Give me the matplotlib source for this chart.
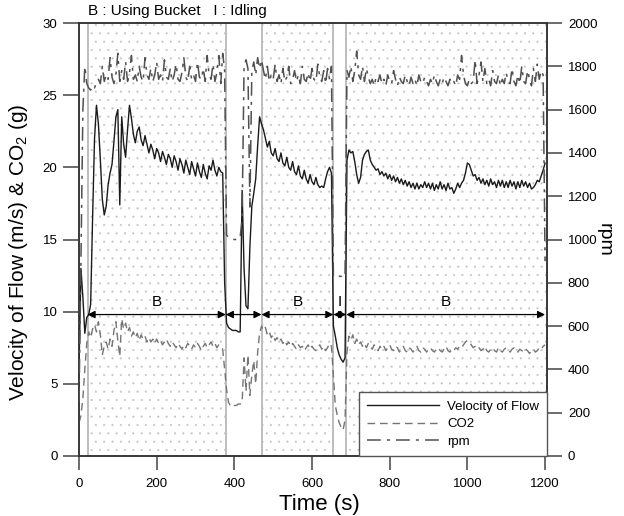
import matplotlib
matplotlib.use('Agg')
import matplotlib.pyplot as plt
import numpy as np

plt.rcParams['font.family'] = ['Liberation Sans', 'DejaVu Sans']
plt.rcParams['mathtext.fontset'] = 'custom'
plt.rcParams['mathtext.rm'] = 'Liberation Sans'
plt.rcParams['hatch.linewidth'] = 0.3

# time grid of the samples (s), one value every 5 s
time_s = list(range(0, 1201, 5))

velocity = [
    6.0, 13.0, 11.0, 8.5, 9.6, 9.8, 10.5, 16.5, 22.0, 24.3, 23.0, 20.5, 17.8, 16.7, 17.3, 18.8, 19.6, 20.2, 21.8, 23.5,
    24.0, 17.4, 23.5, 21.6, 20.7, 22.6, 24.3, 23.4, 22.3, 21.7, 22.5, 22.8, 21.9, 21.5, 22.2, 21.6, 21.0, 21.6, 21.2, 20.6,
    21.3, 21.0, 20.4, 21.1, 20.7, 20.2, 20.9, 20.6, 20.0, 20.8, 20.4, 19.8, 20.6, 20.2, 19.6, 20.5, 20.0, 19.5, 20.4, 19.9,
    19.4, 20.3, 19.7, 19.3, 20.2, 19.6, 19.2, 20.1, 19.8, 20.5, 19.8, 19.4, 20.0, 19.7, 19.6, 12.0, 9.2, 8.9, 8.8, 8.7,
    8.7, 8.7, 8.6, 8.6, 18.4, 13.0, 10.4, 10.2, 14.5, 17.3, 18.2, 19.2, 21.5, 23.5, 23.0, 22.6, 22.0, 21.4, 21.8, 21.0,
    20.8, 21.3, 20.6, 20.4, 21.0, 20.3, 20.1, 20.7, 20.0, 19.8, 20.4, 19.7, 19.5, 20.1, 19.4, 19.2, 19.8, 19.2, 18.9, 19.5,
    19.0, 18.8, 19.3, 18.8, 18.6, 18.7, 18.6, 19.2, 19.7, 20.0, 19.6, 9.0, 8.3, 7.5, 7.0, 6.7, 6.5, 6.8, 20.5, 21.2,
    21.0, 21.1, 20.4, 19.5, 18.9, 19.3, 20.5, 20.9, 21.1, 21.2, 20.5, 20.2, 20.0, 19.8, 19.9, 19.5, 19.7, 19.4, 19.6, 19.2,
    19.5, 19.1, 19.4, 19.0, 19.3, 18.9, 19.2, 18.8, 19.1, 18.7, 19.0, 18.6, 18.9, 18.5, 18.9, 18.5, 18.8, 18.6, 19.0, 18.6,
    18.9, 18.5, 18.9, 18.4, 18.8, 18.5, 19.0, 18.5, 18.8, 18.4, 18.9, 18.5, 18.6, 18.2, 18.5, 18.9, 18.6, 18.9, 19.1, 19.6,
    20.3, 20.2, 19.8, 19.4, 19.5, 19.1, 19.3, 18.9, 19.2, 18.8, 19.1, 18.7, 19.2, 18.8, 19.0, 18.6, 19.1, 18.7, 19.1, 18.6,
    19.0, 18.6, 19.1, 18.7, 19.0, 18.5, 19.0, 18.6, 19.1, 18.7, 19.0, 18.6, 18.9, 18.5, 18.6, 18.8, 19.1, 19.0, 19.4, 19.8,
    20.3,
]

co2 = [
    2.3, 2.8, 4.0, 6.0, 7.8, 8.6, 8.2, 8.8, 9.1, 8.6, 9.3, 8.4, 7.0, 7.6, 7.9, 7.4, 8.1, 7.6, 8.7, 9.3,
    8.0, 6.9, 9.5, 8.8, 9.2, 8.6, 8.9, 8.3, 8.6, 8.2, 8.5, 8.0, 8.4, 8.1, 8.3, 7.9, 8.2, 7.9, 8.1, 7.8,
    8.1, 7.8, 8.0, 7.7, 7.9, 8.1, 7.8, 7.6, 7.9, 7.7, 7.5, 7.8, 7.6, 7.4, 7.7, 7.5, 7.8, 7.6, 7.4, 7.7,
    7.5, 7.8, 7.6, 7.3, 7.6, 7.8, 7.5, 7.7, 7.9, 7.6, 7.8, 7.5, 7.7, 7.6, 7.4, 6.0, 4.6, 3.7, 3.5, 3.4,
    3.5, 3.5, 3.6, 3.6, 3.7, 6.8, 4.5, 7.0, 4.2, 5.6, 6.6, 5.0, 7.2, 8.5, 9.0, 8.7, 8.9, 8.4, 8.6, 8.2,
    8.4, 8.0, 8.2, 7.9, 8.1, 7.8, 8.0, 7.7, 7.9, 7.6, 7.8, 7.6, 7.4, 7.7, 7.5, 7.6, 7.3, 7.5, 7.7, 7.4,
    7.6, 7.4, 7.3, 7.5, 7.7, 7.4, 7.6, 7.3, 7.5, 7.8, 7.6, 5.5, 3.5, 2.8, 2.3, 2.0, 1.8, 2.5, 7.2, 8.3,
    8.0, 8.4, 7.8, 8.1, 7.7, 7.9, 7.6, 7.8, 7.5, 7.8, 7.6, 7.4, 7.7, 7.5, 7.3, 7.6, 7.4, 7.6, 7.3, 7.5,
    7.7, 7.4, 7.3, 7.6, 7.5, 7.2, 7.4, 7.6, 7.3, 7.2, 7.5, 7.4, 7.2, 7.4, 7.6, 7.3, 7.2, 7.5, 7.4, 7.2,
    7.4, 7.5, 7.3, 7.2, 7.4, 7.5, 7.3, 7.2, 7.4, 7.6, 7.3, 7.2, 7.4, 7.3, 7.5, 7.4, 7.6, 7.5, 7.7, 7.9,
    8.0, 7.9, 7.7, 7.5, 7.6, 7.4, 7.5, 7.3, 7.4, 7.6, 7.3, 7.2, 7.4, 7.5, 7.3, 7.2, 7.5, 7.3, 7.2, 7.4,
    7.5, 7.3, 7.2, 7.4, 7.5, 7.3, 7.2, 7.4, 7.3, 7.2, 7.4, 7.3, 7.1, 7.3, 7.4, 7.2, 7.3, 7.5, 7.4, 7.6,
    7.7,
]

rpm = [
    250, 900, 1600, 1800, 1720, 1700, 1690, 1710, 1700, 1730, 1740, 1720, 1800, 1730, 1760, 1740, 1840, 1750, 1720, 1760,
    1860, 1730, 1780, 1740, 1820, 1730, 1770, 1850, 1740, 1760, 1730, 1800, 1750, 1730, 1840, 1760, 1740, 1790, 1730, 1760,
    1820, 1740, 1760, 1730, 1830, 1750, 1740, 1790, 1730, 1760, 1810, 1740, 1730, 1770, 1840, 1750, 1730, 1800, 1740, 1760,
    1730, 1820, 1750, 1740, 1790, 1730, 1850, 1760, 1740, 1810, 1730, 1770, 1850, 1720, 1860, 1780, 1020, 1010, 1005, 1000,
    1000, 1000, 1000, 1010, 1100, 1800, 1830, 1790, 1150, 1780, 1820, 1760, 1840, 1790, 1830, 1780, 1740, 1800, 1730, 1760,
    1740, 1810, 1730, 1760, 1720, 1790, 1730, 1750, 1800, 1720, 1740, 1780, 1730, 1760, 1720, 1800, 1740, 1730, 1770, 1730,
    1790, 1740, 1730, 1810, 1750, 1730, 1780, 1720, 1790, 1740, 1800, 830, 830, 825, 830, 830, 835, 830, 1780, 1750,
    1800, 1730, 1780, 1870, 1760, 1740, 1800, 1730, 1790, 1750, 1720, 1740, 1710, 1750, 1730, 1760, 1720, 1740, 1710, 1760,
    1730, 1720, 1780, 1740, 1710, 1750, 1730, 1720, 1760, 1730, 1710, 1750, 1720, 1740, 1710, 1760, 1730, 1720, 1750, 1730,
    1710, 1740, 1720, 1760, 1730, 1710, 1740, 1720, 1750, 1730, 1710, 1740, 1720, 1730, 1710, 1760, 1740, 1850, 1760, 1720,
    1710, 1740, 1720, 1730, 1830, 1720, 1760, 1820, 1730, 1790, 1720, 1740, 1710, 1780, 1730, 1720, 1760, 1710, 1740, 1720,
    1770, 1730, 1720, 1790, 1730, 1710, 1760, 1720, 1800, 1730, 1720, 1780, 1740, 1710, 1790, 1730, 1810, 1740, 1780, 1760,
    900,
]

# working phases: (start, end, label)
phases = [(22, 378, 'B'), (378, 470, ''), (470, 655, 'B'), (655, 688, 'I'), (688, 1200, 'B')]
bucket_spans = [(22, 378), (470, 655), (688, 1205)]
phase_edges = [22, 378, 470, 655, 688]

fig = plt.figure(figsize=(6.24, 5.16), dpi=100)
ax = fig.add_axes([0.1266, 0.1163, 0.75, 0.8391])
ax2 = ax.twinx()

for a, b in bucket_spans:
    ax.axvspan(a, b, facecolor='none', edgecolor='#c4c4c4', hatch='..', linewidth=0, zorder=0)
for e in phase_edges:
    ax.axvline(e, color='#bdbdbd', linewidth=1.4, zorder=1)

l1, = ax.plot(time_s, velocity, color='#1a1a1a', linewidth=1.0, label='Velocity of Flow', zorder=3)
l2, = ax.plot(time_s, co2, color='#757575', linewidth=1.0, dashes=(5.5, 3.5), label='CO2', zorder=3)
l3, = ax2.plot(time_s, rpm, color='#505050', linewidth=1.1, dashes=(9, 4, 2, 4), label='rpm', zorder=3)

# phase arrows
arrow_y = 9.8
for a, b, lab in phases:
    ax.annotate('', xy=(b, arrow_y), xytext=(a, arrow_y),
                arrowprops=dict(arrowstyle='<|-|>', color='black', lw=0.9,
                                mutation_scale=11, shrinkA=0, shrinkB=0), zorder=4)
    if lab:
        ax.text((a + b) / 2, arrow_y + 0.35, lab, ha='center', va='bottom', fontsize=11)

ax.set_xlim(0, 1205)
ax.set_ylim(0, 30)
ax2.set_ylim(0, 2000)
ax.set_xticks(np.arange(0, 1201, 200))
ax.set_yticks(np.arange(0, 31, 5))
ax2.set_yticks(np.arange(0, 2001, 200))

ax.tick_params(axis='x', direction='out', length=10, width=1.1, color='#444444', labelsize=9.5, pad=6)
ax.tick_params(axis='y', direction='out', length=11.5, width=1.1, color='#444444', labelsize=9.5, pad=4)
ax2.tick_params(axis='y', direction='out', length=11, width=1.1, color='#444444', labelsize=9.5, pad=4)
for a in (ax, ax2):
    for s in a.spines.values():
        s.set_color('#333333')
        s.set_linewidth(1.1)

ax.set_xlabel('Time (s)', fontsize=16)
ax.xaxis.set_label_coords(0.514, -0.088)
ax.set_ylabel('Velocity of Flow (m/s) & CO$_2$ (g)', fontsize=15)
ax.yaxis.set_label_coords(-0.105, 0.47)
ax2.set_ylabel('rpm', fontsize=14, rotation=270)
ax2.yaxis.set_label_coords(1.14, 0.5)

ax.text(0.02, 1.012, 'B : Using Bucket   I : Idling', transform=ax.transAxes,
        ha='left', va='bottom', fontsize=11)

leg = ax2.legend(handles=[l1, l2, l3], loc='lower right', bbox_to_anchor=(1.0, 0.0),
                 borderaxespad=0, fontsize=9.5, handlelength=5.5, handletextpad=0.6,
                 labelspacing=0.42, borderpad=0.6, fancybox=False, framealpha=1)
leg.get_frame().set_facecolor((1, 1, 1, 0))
leg.get_frame().set_edgecolor('#555555')
leg.get_frame().set_linewidth(1.0)

fig.savefig('out.png', dpi=100)
